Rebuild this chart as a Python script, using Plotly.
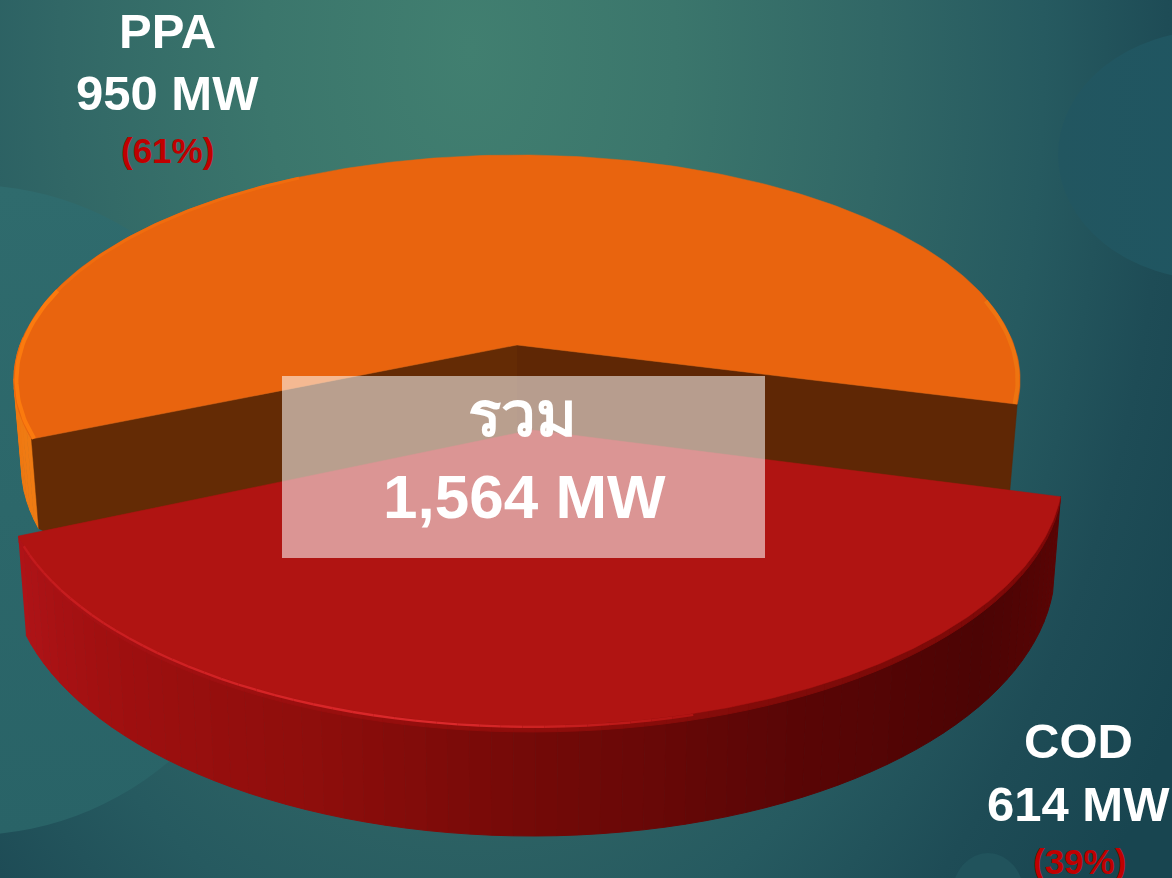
import base64
import numpy as np
import plotly.graph_objects as go

# ---- data ----
categories = ["PPA", "COD"]
values = [950, 614]
value_labels = ["950 MW", "614 MW"]
percent_labels = ["(61%)", "(39%)"]
total_caption = "รวม"
total_label = "1,564 MW"

# ---- view of the tilted disc, in screen pixels ----
W, H = 1172, 878
CX, APEX_Y, RADIUS = 517, 345, 497
BY, CY = -165.9, 0.1556
THICK = {"PPA": 84, "COD": 87}
TAPER = 0.015
START_DEG = -15
EXPLODE = {"PPA": (0.0, 0.0, 1.0), "COD": (15.0, 0.365, 0.994)}


def project(theta_deg, r=1.0, drop=0.0, key="PPA"):
    th = np.radians(np.asarray(theta_deg, dtype=float))
    dx, dy, sc = EXPLODE[key]
    xd = r * np.cos(th)
    yd = r * np.sin(th) - dy
    w = 1 + CY * yd
    taper = 1 - TAPER * drop / THICK[key]
    return CX + dx + sc * taper * RADIUS * xd / w, (APEX_Y + BY * yd + drop) / w


def mix(stops, t):
    pos = [s[0] for s in stops]
    rgb = [[int(s[1][i:i + 2], 16) for s in stops] for i in (1, 3, 5)]
    return "rgb(%d,%d,%d)" % tuple(np.interp(t, pos, c) for c in rgb)


def poly(fig, x, y, color, lw=1.0):
    fig.add_trace(go.Scatter(x=x, y=y, mode="lines", fill="toself", fillcolor=color,
                             line=dict(color=color, width=lw), hoverinfo="skip", showlegend=False))


def rim(fig, th, color, width, key, drop=0.0, r=1.0, opacity=1.0):
    x, y = project(th, r=r, drop=drop, key=key)
    fig.add_trace(go.Scatter(x=x, y=y, mode="lines", line=dict(color=color, width=width),
                             opacity=opacity, hoverinfo="skip", showlegend=False))


def side(fig, a, b, key, stops, d0=0.0, d1=None, step=2.0):
    d1 = THICK[key] if d1 is None else d1
    n = max(int(abs(b - a) / step), 1)
    edges = np.linspace(a, b, n + 1)
    for p, q in zip(edges[:-1], edges[1:]):
        th = np.linspace(p, q, 3)
        x0, y0 = project(th, drop=d0, key=key)
        x1, y1 = project(th[::-1], drop=d1, key=key)
        poly(fig, np.r_[x0, x1], np.r_[y0, y1], mix(stops, (p + q) / 2))


def top(fig, a, b, key, color):
    th = np.linspace(a, b, 240)
    x, y = project(th, key=key)
    ax, ay = project(0, r=0, key=key)
    poly(fig, np.r_[ax, x, ax], np.r_[ay, y, ay], color, lw=0.5)


def wall(fig, theta, key, color, extra=10):
    d = THICK[key] + extra
    ax, ay = project(0, r=0, key=key)
    ex, ey = project(theta, key=key)
    bx, by = project(theta, drop=THICK[key], key=key)
    b2x, b2y = project(theta, r=0.97, drop=d, key=key)
    cx, cy = project(0, r=0, drop=d, key=key)
    poly(fig, [ax, ex, bx, b2x, cx], [ay, ey, by, b2y, cy], color, lw=0.5)


share = [v / sum(values) * 360 for v in values]
a0 = START_DEG
a1 = a0 + share[0]
a2 = a1 + share[1]

fig = go.Figure()

# PPA slice
side(fig, 178, a1, "PPA", [(178, "#ee7410"), (a1, "#f07c14")])
wall(fig, a1, "PPA", "#642b05")
wall(fig, a0, "PPA", "#5f2705")
top(fig, a0, a1, "PPA", "#e9640e")
rim(fig, np.linspace(165, a1, 40), "#fb7a0e", 4, "PPA", r=0.995)
rim(fig, np.linspace(120, 165, 40), "#f06c0e", 3, "PPA", r=0.995)
rim(fig, np.linspace(a0, 12, 30), "#ee7410", 4, "PPA", r=0.995)

# COD slice
RED_SIDE = [(a1, "#b01418"), (225, "#a01010"), (250, "#8e0e0c"), (270, "#740a08"),
            (295, "#5a0606"), (320, "#4c0404"), (a2, "#5c0505")]
side(fig, a1, a2, "COD", RED_SIDE)
RED_BEVEL = [(a1, "#b01418"), (265, "#920e0c"), (300, "#7e0b09"), (a2, "#800808")]
side(fig, a1, a2, "COD", RED_BEVEL, d0=0, d1=5)
top(fig, a1, a2, "COD", "#b01412")
GLOW = [(a1, "#c01a1c"), (250, "#d82628"), (262, "#dc2a2c"), (285, "#b01412")]
glow_edges = np.linspace(a1 + 2, 285, 41)
for p, q in zip(glow_edges[:-1], glow_edges[1:]):
    rim(fig, np.linspace(p, q, 4), mix(GLOW, (p + q) / 2), 2.4, "COD", drop=1)

# ---- background ----
svg = f"""<svg xmlns='http://www.w3.org/2000/svg' width='{W}' height='{H}'>
<defs><radialGradient id='g' gradientUnits='userSpaceOnUse' cx='470' cy='50' r='820'
 gradientTransform='translate(470 50) scale(1 1.6) translate(-470 -50)'>
<stop offset='0' stop-color='#417f70'/><stop offset='0.25' stop-color='#3b766c'/>
<stop offset='0.5' stop-color='#316766'/><stop offset='0.7' stop-color='#265a60'/>
<stop offset='0.85' stop-color='#1e4c56'/><stop offset='1' stop-color='#184550'/></radialGradient>
<linearGradient id='b' x1='0' y1='0' x2='0' y2='1'>
<stop offset='0' stop-color='#2f6b6d'/><stop offset='1' stop-color='#296367'/></linearGradient>
<linearGradient id='k' x1='0' y1='0' x2='1' y2='0'>
<stop offset='0' stop-color='#225660'/><stop offset='1' stop-color='#1c5563'/></linearGradient></defs>
<rect width='{W}' height='{H}' fill='url(#g)'/>
<ellipse cx='-30' cy='510' rx='314' ry='325' fill='url(#b)'/>
<ellipse cx='1215' cy='155' rx='157' ry='125' fill='url(#k)'/>
<ellipse cx='988' cy='895' rx='36' ry='42' fill='#21535c'/>
</svg>"""
src = "data:image/svg+xml;base64," + base64.b64encode(svg.encode()).decode()


def label(text, x, y, size, color="#ffffff"):
    fig.add_annotation(x=x, y=y, text=f"<b>{text}</b>", showarrow=False, xref="x", yref="y",
                       xanchor="center", yanchor="middle",
                       font=dict(family="Liberation Sans, Arial, sans-serif", size=size, color=color))


label(categories[0], 167, 31, 49)
label(value_labels[0], 167, 93, 49)
label(percent_labels[0], 167, 150, 35, "#c00000")
label(categories[1], 1078, 741, 49)
label(value_labels[1], 1078, 804, 49)
label(percent_labels[1], 1079, 861, 35, "#c00000")
label(total_caption, 522, 414, 62)
label(total_label, 524, 496, 62)

fig.update_layout(
    width=W, height=H, margin=dict(l=0, r=0, t=0, b=0),
    paper_bgcolor="#1d4d58", plot_bgcolor="rgba(0,0,0,0)", showlegend=False,
    xaxis=dict(range=[0, W], visible=False, fixedrange=True),
    yaxis=dict(range=[H, 0], visible=False, fixedrange=True),
    images=[dict(source=src, xref="paper", yref="paper", x=0, y=1, sizex=1, sizey=1,
                 sizing="stretch", layer="below", xanchor="left", yanchor="top")],
    shapes=[dict(type="rect", x0=282, x1=765, y0=376, y1=558, fillcolor="#ffffff",
                 opacity=0.55, line=dict(width=0), layer="above")],
)
fig.write_html("out.html", config=dict(displayModeBar=False),
               post_script="document.body.style.margin='0';document.body.style.overflow='hidden';")
